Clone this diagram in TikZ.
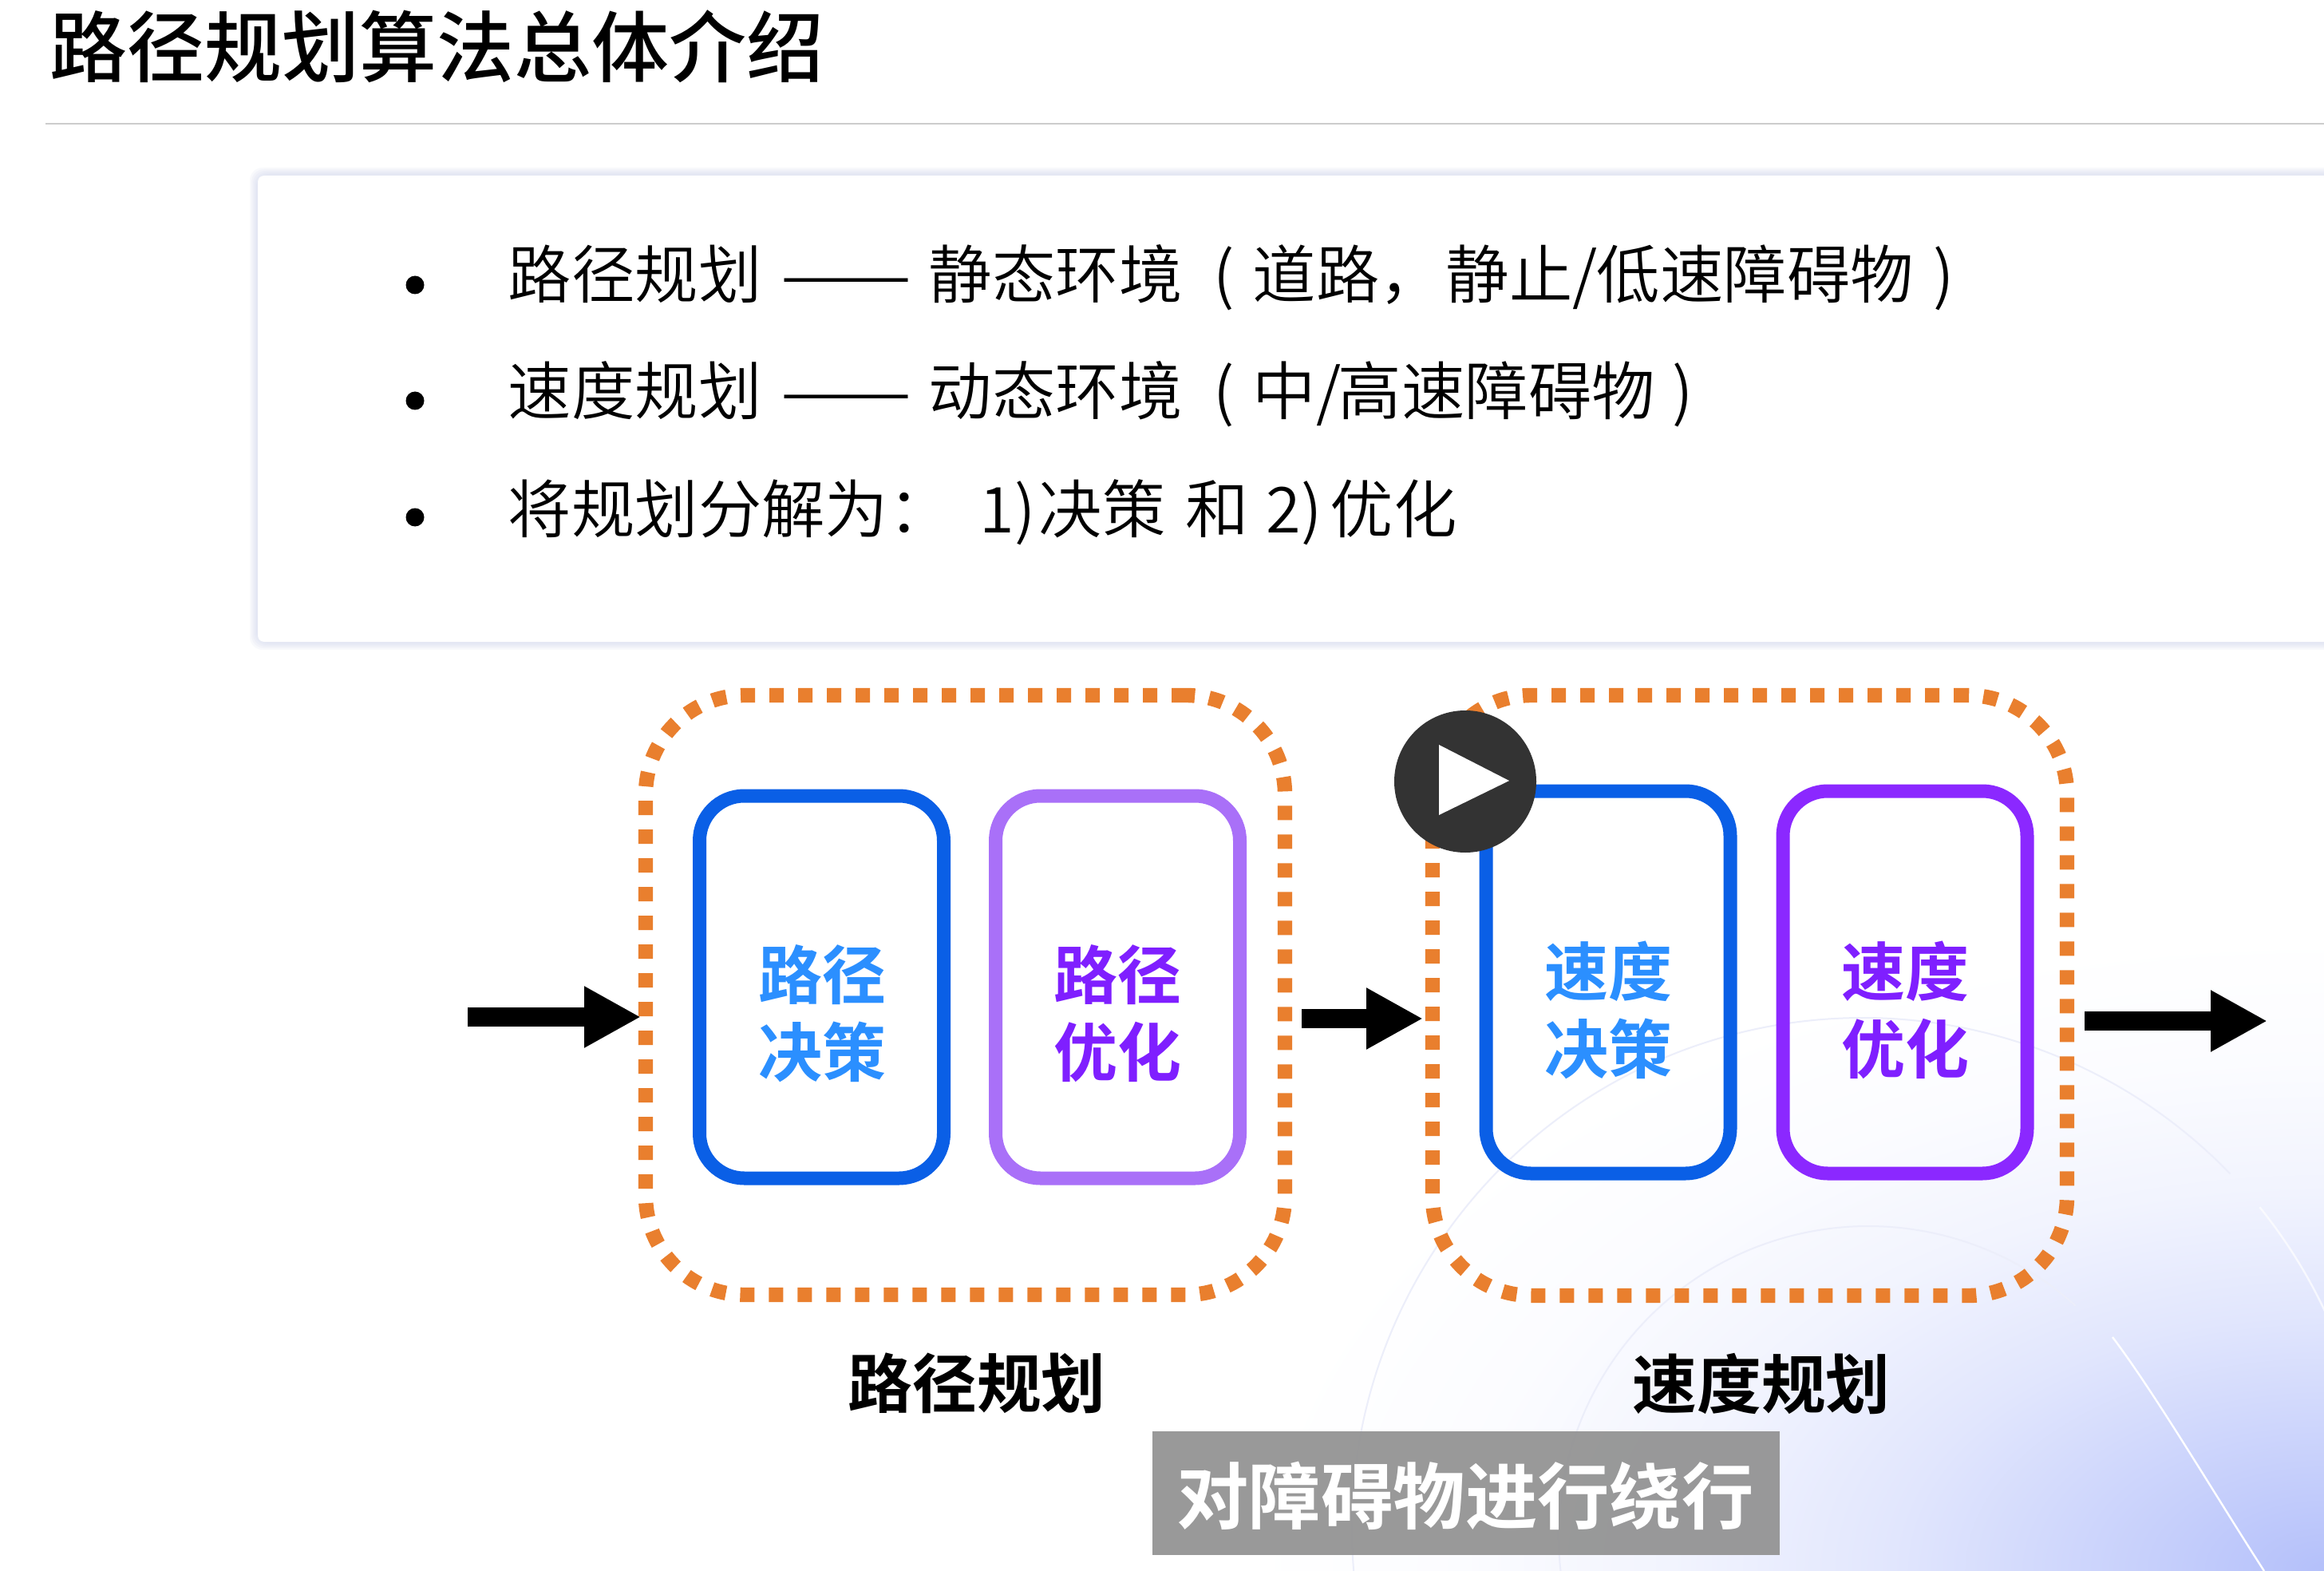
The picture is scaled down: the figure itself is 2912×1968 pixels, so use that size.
\documentclass[tikz,border=0pt]{standalone}
\usepackage{fontspec}
\usetikzlibrary{arrows.meta,calc}
\setmainfont{Noto Sans CJK SC DemiLight}
\newfontfamily\medfont{Noto Sans CJK SC Medium}
\newfontfamily\boldfont{Noto Sans CJK SC Bold}
\definecolor{deepblue}{HTML}{0A5FE6}
\definecolor{softviolet}{HTML}{A970F8}
\definecolor{vivid}{HTML}{8B28FF}
\definecolor{dotorange}{HTML}{E97F2E}
\definecolor{skytext}{HTML}{2B8FFF}
\definecolor{violettext}{HTML}{7F1FFF}
\definecolor{cornerblue}{HTML}{B4C0FA}
\definecolor{shadowblue}{HTML}{C4CAE8}
\definecolor{arcblue}{HTML}{ECEEFA}
\pgfdeclareradialshading{cornerglow}{\pgfpoint{0bp}{0bp}}{
 color(0bp)=(cornerblue);
 color(5bp)=(cornerblue!70!white);
 color(10bp)=(cornerblue!40!white);
 color(15bp)=(cornerblue!18!white);
 color(20bp)=(cornerblue!5!white);
 color(25bp)=(white);
 color(50bp)=(white)}
\newcommand{\seg}[2]{\makebox[#1pt][l]{#2}}
\newcommand{\longdash}{\resizebox{41pt}{\height}{——}}
\tikzset{
 x=0.25pt,y=-0.25pt,
 inner box/.style={draw,line width=4.25pt,rounded corners=14pt,minimum width=76.5pt,minimum height=119.75pt,inner sep=0,outer sep=0},
 plan group/.style={draw=dotorange,line width=4.6pt,dash pattern=on 4.5pt off 4.5pt,rounded corners=31pt,inner sep=0,outer sep=0},
 box text/.style={font=\boldfont\fontsize{20pt}{24.25pt}\selectfont,align=center,inner sep=0},
 plan label/.style={font=\boldfont\fontsize{20.2pt}{24pt}\selectfont,text=black,inner sep=0},
 body text/.style={font=\fontsize{19.85pt}{24pt}\selectfont,anchor=west,inner sep=0,text=black},
 bullet dot/.style={circle,fill=black,minimum size=5.75pt,inner sep=0},
 flow/.style={line width=6pt,-{Triangle[length=17.75pt,width=18pt]}},
 faint/.style={draw=arcblue,line width=0.5pt},
 glint/.style={draw=white,line width=0.6pt},
}
\begin{document}
\begin{tikzpicture}
\useasboundingbox (0,0) rectangle (2912,1968);
\fill[white] (0,0) rectangle (2912,1968);
% background glow and arcs
\begin{scope}
\clip (0,0) rectangle (2912,1968);
\shade[shading=cornerglow] (2912,1968) ellipse [x radius=1350,y radius=800];
\coordinate (arcA) at (2334,1915);
\coordinate (arcB) at (2341,1924);
\draw[faint] (arcA) ++(175:640) arc[start angle=175,end angle=316,radius=640];
\draw[glint,opacity=.7] (arcA) ++(321:640) arc[start angle=321,end angle=335,radius=640];
\draw[faint] (arcB) ++(170:388) arc[start angle=170,end angle=312,radius=388];
\draw[glint] (2647,1675) .. controls (2700,1745) and (2780,1880) .. (2837,1968);
\end{scope}
% header
\node[font=\medfont\fontsize{24.25pt}{28pt}\selectfont,anchor=west,inner sep=0] (title) at (62,58) {路径规划算法总体介绍};
\coordinate (ruleL) at (57,155);
\coordinate (ruleR) at (2912,155);
\draw[black!20,line width=0.6pt] (ruleL) -- (ruleR);
% card with its soft shadow
\foreach \s in {10,8,6,4,2}
  \fill[shadowblue,opacity=.11,rounded corners=4pt] ({323-\s},{220-\s}) rectangle (2990,{804+\s});
\fill[white,rounded corners=2pt] (323,220) rectangle (2950,804);
\node[bullet dot] (b1) at (520,357) {};
\node[bullet dot] (b2) at (520,502) {};
\node[bullet dot] (b3) at (520,648) {};
\node[body text] (l1) at (636,348) {\seg{85.5}{路径规划 }\seg{46.25}{\longdash{} }\seg{89.25}{静态环境}\seg{12.25}{(}\seg{60.5}{道路，}\seg{47.25}{静止/}\seg{105.5}{低速障碍物}{)}};
\node[body text] (l2) at (636,494) {\seg{85.5}{速度规划 }\seg{46.25}{\longdash{} }\seg{89.25}{动态环境}\seg{12.25}{(}\seg{26.75}{中/}\seg{104.75}{高速障碍物}{)}};
\node[body text] (l3) at (636,642) {\seg{147.75}{将规划分解为： }\seg{18.5}{1)}\seg{46}{决策 }\seg{25.25}{和 }\seg{20}{2)}{优化}};
% groups
\node[plan group,minimum width=200.25pt,minimum height=187.75pt] (g1) at (1209.5,1246.5) {};
\node[plan group,minimum width=198.75pt,minimum height=188pt] (g2) at (2192.5,1247) {};
% inner boxes
\node[inner box,draw=deepblue] (d1) at (1029.5,1236.5) {};
\node[inner box,draw=softviolet] (o1) at (1400.5,1236.5) {};
\node[inner box,draw=deepblue] (d2) at (2015,1230.5) {};
\node[inner box,draw=vivid] (o2) at (2387,1230.5) {};
\node[box text,text=skytext] (td1) at (1030,1270) {路径\\决策};
\node[box text,text=violettext] (to1) at (1400,1270) {路径\\优化};
\node[box text,text=skytext] (td2) at (2015,1265) {速度\\决策};
\node[box text,text=violettext] (to2) at (2387,1265) {速度\\优化};
\node[plan label] (lab1) at (1224,1733) {路径规划};
\node[plan label] (lab2) at (2207,1733) {速度规划};
% flow arrows
\coordinate (in) at (586,1274);
\coordinate (mid) at (1631,1276);
\coordinate (out) at (2612,1279);
\coordinate (end) at (2841,1279);
\draw[flow,shorten >=1.5pt] (in) -- (in -| g1.west);
\draw[flow,shorten >=3pt] (mid) -- (mid -| g2.west);
\draw[flow] (out) -- (end);
% caption
\node[fill=black!42,fill opacity=0.95,minimum width=196.5pt,minimum height=38.75pt,inner sep=0] (cap) at (1837,1870.5) {};
\node[text=white,font=\boldfont\fontsize{22.6pt}{26pt}\selectfont,inner sep=0] (captext) at (1836,1874) {对障碍物进行绕行};
% play button
\node[circle,fill=black!80,minimum size=44.5pt,inner sep=0] (play) at (1836,979) {};
\fill[white] (1803,933) -- (1891,978) -- (1803,1021) -- cycle;
\end{tikzpicture}
\end{document}
